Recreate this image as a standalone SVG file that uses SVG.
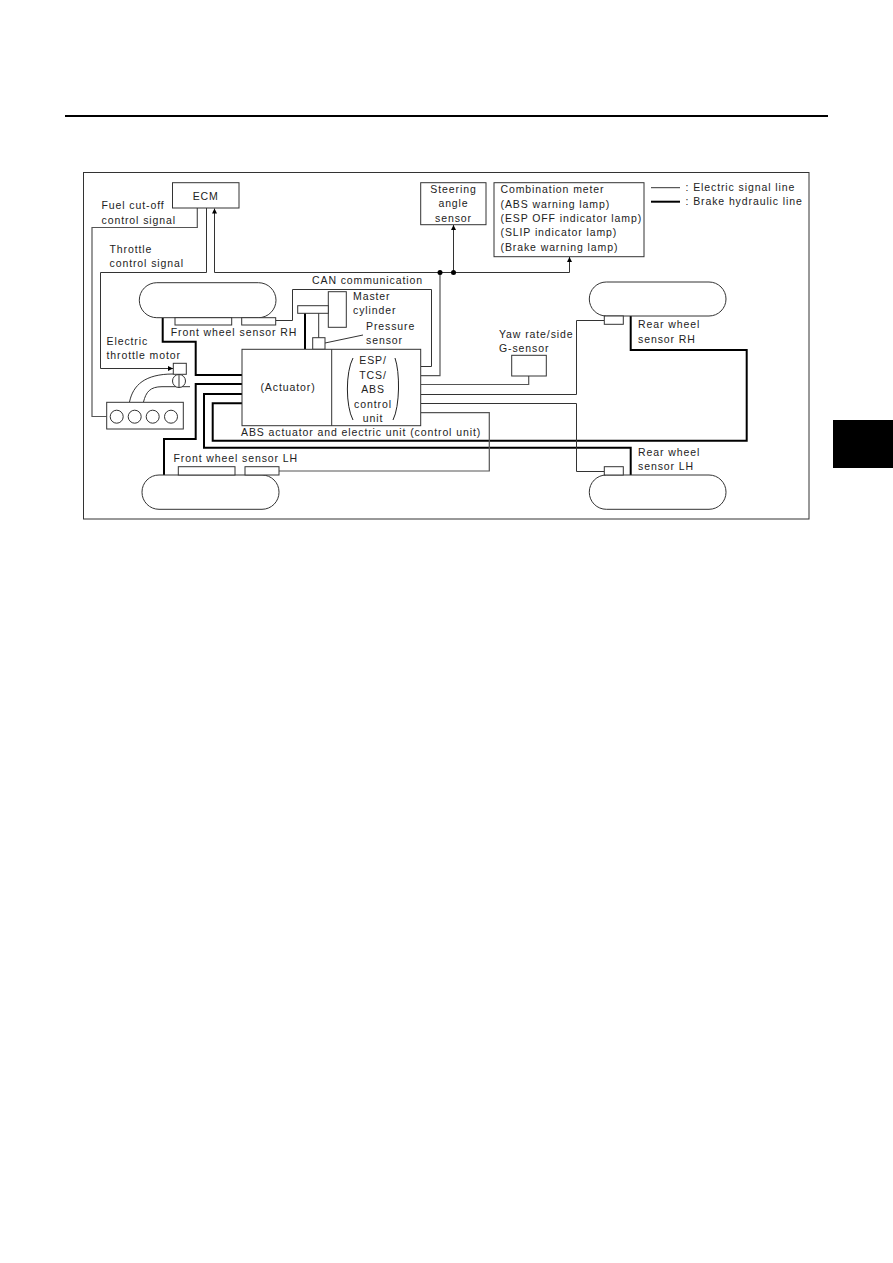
<svg xmlns="http://www.w3.org/2000/svg" width="893" height="1263" viewBox="0 0 893 1263">
  <style>
    text { font-family: "Liberation Sans", Arial, sans-serif; font-size: 10.5px; letter-spacing: 0.9px; fill: #222; }
    .mid { text-anchor: middle; }
    .box { fill: #fff; stroke: #333; stroke-width: 1; }
    .sig { fill: none; stroke: #333; stroke-width: 1; }
    .soft { fill: none; stroke: #555; stroke-width: 1.2; }
    .hyd { fill: none; stroke: #000; stroke-width: 2; }
    .bracket { fill: none; stroke: #222; stroke-width: 1; }
  </style>
  <defs>
    <marker id="arrow" markerWidth="6" markerHeight="6" refX="5" refY="2.5" orient="auto" markerUnits="userSpaceOnUse">
      <path d="M0,0 L5,2.5 L0,5 Z" fill="#000"/>
    </marker>
  </defs>
  <rect width="893" height="1263" fill="#fff"/>
  <rect id="page-rule" x="65" y="115" width="763" height="2" fill="#000"/>
  <rect id="page-tab" x="833" y="420" width="60" height="48" fill="#000"/>
  <rect id="frame" x="83.5" y="172.5" width="725.5" height="346.5" fill="none" stroke="#333" stroke-width="1"/>

  <g id="connectors">
    <path class="hyd" d="M162.700,318V341.700H195.700V375H242"/>
    <path class="hyd" d="M242,384H195.700V439H164V475"/>
    <path class="hyd" d="M242,394H204V447.700H630.700V475"/>
    <path class="hyd" d="M242,403.300H212.700V440.700H746.700V350H630.700V316"/>
    <path class="hyd" d="M305,313V349"/>
    <path class="soft" d="M197.300,208V227.500H92V416.500H106.700"/>
    <path class="sig" d="M206.500,208V272.500H100.500V368.500H173" marker-end="url(#arrow)"/>
    <path class="sig" d="M214.500,272.500V208.500" marker-end="url(#arrow)"/>
    <path class="sig" d="M214.500,272.500H569.500V257" marker-end="url(#arrow)"/>
    <path class="sig" d="M453.500,272.500V225" marker-end="url(#arrow)"/>
    <path class="soft" d="M440,272.500V375.700H421"/>
    <path class="sig" d="M275.700,320.500H292.500V289.500H431.500V366.500H421"/>
    <path class="soft" d="M421,384.500H528.700V376"/>
    <path class="sig" d="M421,394.500H576.500V320.500H604"/>
    <path class="sig" d="M421,403.500H576.500V471.500H604"/>
    <path class="soft" d="M421,412.700H489.300V471H279"/>
    <path class="sig" d="M318.700,313V338"/>
    <path class="sig" d="M325,343L363,335"/>
    <circle cx="440" cy="272.500" r="2.500" fill="#000"/>
    <circle cx="453.500" cy="272.500" r="2.500" fill="#000"/>
  </g>

  <g id="ecm">
    <rect class="box" x="172.500" y="182.700" width="66.500" height="25.300"/>
    <text class="mid" x="205.700" y="199.500">ECM</text>
  </g>
  <g id="steering-angle-sensor">
    <rect class="box" x="420.700" y="182.700" width="65.300" height="42"/>
    <text class="mid" x="453.500" y="193">Steering</text>
    <text class="mid" x="453.500" y="207">angle</text>
    <text class="mid" x="453.500" y="222">sensor</text>
  </g>
  <g id="combination-meter">
    <rect class="box" x="494" y="182.700" width="150" height="74"/>
    <text x="500.500" y="193">Combination meter</text>
    <text x="500.500" y="207.500">(ABS warning lamp)</text>
    <text x="500.500" y="221.500">(ESP OFF indicator lamp)</text>
    <text x="500.500" y="236">(SLIP indicator lamp)</text>
    <text x="500.500" y="250.500">(Brake warning lamp)</text>
  </g>
  <g id="legend">
    <line class="sig" x1="651" y1="187.700" x2="680" y2="187.700"/>
    <line class="hyd" x1="651" y1="201.700" x2="680" y2="201.700"/>
    <text x="685.500" y="191">: Electric signal line</text>
    <text x="685.500" y="205">: Brake hydraulic line</text>
  </g>

  <g id="wheel-front-right">
    <rect class="box" x="139.300" y="282.700" width="136.700" height="35" rx="17.500"/>
    <rect class="box" x="175" y="317.700" width="56.700" height="7.300"/>
    <rect class="box" x="241.700" y="317.700" width="34" height="7.300"/>
    <text x="170.700" y="335.500">Front wheel <tspan x="239.500">sensor RH</tspan></text>
  </g>
  <g id="wheel-rear-right">
    <rect class="box" x="589.300" y="282" width="136.700" height="34" rx="17"/>
    <rect class="box" x="604.300" y="316" width="19" height="8.300"/>
    <text x="638" y="328">Rear wheel</text>
    <text x="638" y="343">sensor RH</text>
  </g>
  <g id="wheel-front-left">
    <rect class="box" x="142" y="475" width="137" height="34.300" rx="17"/>
    <rect class="box" x="178.300" y="466.700" width="56.700" height="8.300"/>
    <rect class="box" x="245" y="466.700" width="34" height="8.300"/>
    <text x="173.500" y="461.700">Front wheel sensor LH</text>
  </g>
  <g id="wheel-rear-left">
    <rect class="box" x="589.300" y="475" width="136.700" height="34.300" rx="17"/>
    <rect class="box" x="604.300" y="466.700" width="19" height="8.300"/>
    <text x="638" y="456">Rear wheel</text>
    <text x="638" y="470">sensor LH</text>
  </g>

  <g id="master-cylinder">
    <rect class="box" x="328.300" y="291.700" width="18" height="35.600"/>
    <rect class="box" x="297.700" y="305.700" width="30.600" height="7.600"/>
    <text x="353" y="300">Master</text>
    <text x="353" y="314">cylinder</text>
  </g>
  <g id="pressure-sensor">
    <rect class="box" x="312.700" y="337.700" width="12.300" height="11.600"/>
    <text x="366" y="330">Pressure</text>
    <text x="366" y="344">sensor</text>
  </g>

  <g id="abs-unit">
    <rect class="box" x="242" y="349.300" width="178.700" height="76.400"/>
    <line class="sig" x1="331.700" y1="349.300" x2="331.700" y2="425.700"/>
    <text class="mid" x="288" y="391">(Actuator)</text>
    <path class="bracket" d="M353,358C345.500,372 345.500,406 353,420"/>
    <path class="bracket" d="M395,358C400,372 400,406 393,420"/>
    <text class="mid" x="373" y="364">ESP/</text>
    <text class="mid" x="373" y="379">TCS/</text>
    <text class="mid" x="373" y="393">ABS</text>
    <text class="mid" x="373" y="407.500">control</text>
    <text class="mid" x="373" y="422">unit</text>
    <text x="241" y="436">ABS actuator and electric unit (control unit)</text>
  </g>

  <g id="yaw-rate-sensor">
    <rect class="box" x="511.700" y="355.300" width="34.600" height="20.700"/>
    <text x="499" y="338">Yaw rate/side</text>
    <text x="499" y="352">G-sensor</text>
  </g>

  <g id="engine">
    <path class="sig" d="M129.500,402C133,385 145,374 173,374"/>
    <path class="sig" d="M143.500,402C146,392 150,386.700 162,386.700H190"/>
    <rect class="box" x="106.700" y="402.300" width="76.600" height="26.700"/>
    <circle class="box" cx="116.700" cy="416.700" r="6.500"/>
    <circle class="box" cx="134.700" cy="416.700" r="6.500"/>
    <circle class="box" cx="152.700" cy="416.700" r="6.500"/>
    <circle class="box" cx="171" cy="416.700" r="6.500"/>
  </g>
  <g id="electric-throttle-motor">
    <circle class="box" cx="179" cy="381" r="6.500"/>
    <line class="sig" x1="179" y1="374.300" x2="179" y2="387.500"/>
    <rect class="box" x="173.300" y="363.300" width="13" height="11"/>
    <text x="106.500" y="345">Electric</text>
    <text x="106.500" y="359">throttle motor</text>
  </g>

  <g id="signal-labels">
    <text x="101.500" y="209.300">Fuel cut-off</text>
    <text x="101.500" y="224">control signal</text>
    <text x="109.500" y="252.700">Throttle</text>
    <text x="109.500" y="267">control signal</text>
    <text x="312" y="284">CAN communication</text>
  </g>
</svg>
